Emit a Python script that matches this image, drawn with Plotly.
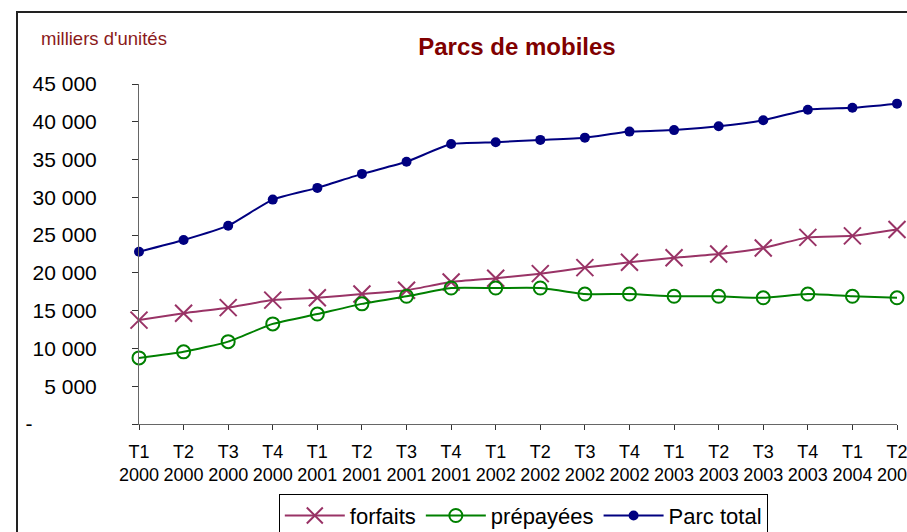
import plotly.graph_objects as go

quarters = ["T1", "T2", "T3", "T4"] * 4 + ["T1", "T2"]
years = ["2000"] * 4 + ["2001"] * 4 + ["2002"] * 4 + ["2003"] * 4 + ["2004"] * 2
categories = [f"{q}<br>{y}" for q, y in zip(quarters, years)]

forfaits = [13750, 14650, 15400, 16400, 16700, 17200, 17700, 18800, 19300, 19900,
            20700, 21400, 22000, 22500, 23300, 24700, 24900, 25750]
prepayees = [8750, 9550, 10900, 13250, 14550, 15900, 16900, 18000, 18000, 18000,
             17200, 17200, 16900, 16900, 16700, 17200, 16900, 16700]
parc_total = [22800, 24350, 26250, 29700, 31250, 33100, 34700, 37050, 37300, 37600,
              37900, 38700, 38900, 39400, 40200, 41600, 41850, 42400]

y_ticks = [0, 5000, 10000, 15000, 20000, 25000, 30000, 35000, 40000, 45000]
y_ticktext = ["-" + "\u00a0" * 11] + [f"{v // 1000} 000" for v in y_ticks[1:]]

x_idx = list(range(len(categories)))

fig = go.Figure()
fig.add_trace(go.Scatter(
    x=x_idx, y=forfaits, name="forfaits", mode="lines+markers",
    line=dict(color="#993366", width=2, shape="spline", smoothing=0.5),
    marker=dict(symbol="x-thin-open", size=17, line=dict(color="#993366", width=2)),
    cliponaxis=False))
fig.add_trace(go.Scatter(
    x=x_idx, y=prepayees, name="prépayées", mode="lines+markers",
    line=dict(color="#008000", width=2, shape="spline", smoothing=0.5),
    marker=dict(symbol="circle-open", size=13, color="#008000", line=dict(color="#008000", width=2)),
    cliponaxis=False))
fig.add_trace(go.Scatter(
    x=x_idx, y=parc_total, name="Parc total", mode="lines+markers",
    line=dict(color="#000080", width=2, shape="spline", smoothing=0.5),
    marker=dict(symbol="circle", size=10, color="#000080"),
    cliponaxis=False))

font_family = "Liberation Sans, Arial, sans-serif"

fig.update_layout(
    width=907, height=532,
    margin=dict(l=139, r=10, t=84, b=108, autoexpand=False),
    paper_bgcolor="white", plot_bgcolor="white",
    font=dict(family=font_family, color="black"),
    title=dict(text="<b>Parcs de mobiles</b>", x=0.57, xanchor="center",
               y=1 - 47 / 532, yanchor="middle",
               font=dict(size=24, color="#800000", family=font_family)),
    showlegend=True,
    legend=dict(orientation="h", x=0.507, xanchor="center", y=-0.205, yanchor="top",
                bordercolor="black", borderwidth=1, bgcolor="white",
                font=dict(size=22, color="black"), itemwidth=60,
                tracegroupgap=0),
    xaxis=dict(range=[0, 17], tickmode="array", tickvals=x_idx, ticktext=categories,
               showgrid=False, zeroline=False, showline=True, linecolor="#666666",
               linewidth=1, ticks="outside", ticklen=5, tickcolor="#333333",
               tickfont=dict(size=18, color="black"), tickangle=0,
               ticklabelstandoff=6, automargin=False, ticklabeloverflow="allow"),
    yaxis=dict(range=[0, 45000], tickmode="array", tickvals=y_ticks, ticktext=y_ticktext,
               showgrid=False, zeroline=False, showline=True, linecolor="#666666",
               linewidth=1, ticks="outside", ticklen=6, tickcolor="#333333",
               tickfont=dict(size=21, color="black"), ticklabelstandoff=31,
               automargin=False, ticklabeloverflow="allow"),
    shapes=[dict(type="rect", xref="paper", yref="paper",
                 x0=(17 - 139) / 758, x1=1.3, y0=-0.6, y1=(424 - 12) / 340,
                 line=dict(color="#222222", width=2), fillcolor="rgba(0,0,0,0)",
                 layer="below")],
    annotations=[dict(text="milliers d'unités", xref="paper", yref="paper",
                      x=(39 - 139) / 758, xanchor="left", y=(424 - 38) / 340,
                      yanchor="middle", showarrow=False,
                      font=dict(size=18.5, color="#8B1A1A", family=font_family))],
)

fig.write_html("out.html",
               config={"displayModeBar": False},
               post_script="document.body.style.margin='0';document.body.style.overflow='hidden';")
